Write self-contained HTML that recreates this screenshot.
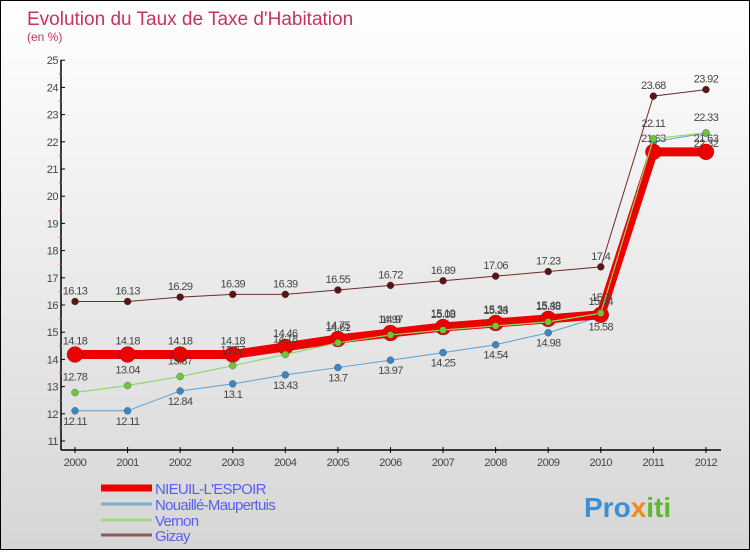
<!DOCTYPE html>
<html><head><meta charset="utf-8"><style>
html,body{margin:0;padding:0}
body{width:750px;height:550px;overflow:hidden;font-family:"Liberation Sans",sans-serif}
#wrap{position:relative;width:748px;height:548px;border:1px solid #000;background:linear-gradient(#ffffff,#d6d6d6)}
</style></head><body>
<div id="wrap">
<svg id="chart" width="748" height="548">
<text x="26" y="24" font-size="19" fill="#c8325e">Evolution du Taux de Taxe d'Habitation</text>
<text x="26" y="40" font-size="12" fill="#c8325e">(en %)</text>
<g id="axes"></g><g id="series"></g><g id="legend"></g>
<text x="583" y="516" font-size="28" font-weight="bold" fill="#3a8fd6">Pro<tspan fill="#f08a1c">x</tspan><tspan fill="#5cb82e">iti</tspan></text>
</svg>
</div>
<script>
const years=[2000,2001,2002,2003,2004,2005,2006,2007,2008,2009,2010,2011,2012];
const yTicks=[11,12,13,14,15,16,17,18,19,20,21,22,23,24,25];
const names=["NIEUIL-L'ESPOIR","Nouaillé-Maupertuis","Vernon","Gizay"];
const nieuil=[14.18,14.18,14.18,14.18,14.46,14.75,14.97,15.19,15.34,15.49,15.64,21.63,21.63];
const nouaille=[12.11,12.11,12.84,13.1,13.43,13.7,13.97,14.25,14.54,14.98,15.58,22.0,22.32];
const vernon=[12.78,13.04,13.37,13.77,14.18,14.61,14.9,15.08,15.23,15.38,15.7,22.11,22.33];
const gizay=[16.13,16.13,16.29,16.39,16.39,16.55,16.72,16.89,17.06,17.23,17.4,23.68,23.92];
const NS="http://www.w3.org/2000/svg";
const X=i=>74+i*52.58;
const Y=v=>440-(v-11)*27.2;
function mk(t,a,p){const e=document.createElementNS(NS,t);for(const k in a)e.setAttribute(k,a[k]);(p||document.getElementById('series')).appendChild(e);return e;}
const ax=document.getElementById('axes');
let e=mk('line',{x1:60,y1:59,x2:60,y2:449,stroke:'#000','stroke-width':1.5},ax);


e=mk('line',{x1:60,y1:449,x2:720,y2:449,stroke:'#000','stroke-width':1.5},ax);


yTicks.forEach(v=>{
  mk('line',{x1:60,y1:Y(v),x2:64,y2:Y(v),stroke:'#000'},ax);
  if(v<25) mk('line',{x1:58,y1:Y(v+0.5),x2:61,y2:Y(v+0.5),stroke:'#f33'},ax);
  const t=mk('text',{x:57,y:Y(v)+4,'font-size':11,fill:'#444','text-anchor':'end','letter-spacing':'-0.5'},ax);
  t.textContent=v;
  
  
});
years.forEach((y,i)=>{
  mk('line',{x1:X(i),y1:446,x2:X(i),y2:452,stroke:'#000'},ax);
  const t=mk('text',{x:X(i),y:465,'font-size':11,fill:'#444','text-anchor':'middle','letter-spacing':'-0.5'},ax);
  t.textContent=y;
  
  
});
const defs=[
 {d:gizay,c:'#6e2a2a',w:1,r:3.5,f:'#5a1515',lab:-7,n:'series-gizay'},
 {d:nouaille,c:'#5a9fd4',w:1,r:3.5,f:'#3b87c4',lab:14,n:'series-nouaille'},
 {d:nieuil,c:'#ee0000',w:9,r:8,f:'#ee0000',lab:-10,n:'series-nieuil'},
 {d:vernon,c:'#8ed86a',w:1.2,r:3.5,f:'#6cc83a',lab:-12,n:'series-vernon'}
];
defs.forEach(s=>{
  const g=mk('g',{});
  
  
  const p=mk('polyline',{points:s.d.map((v,i)=>X(i)+','+Y(v)).join(' '),fill:'none',stroke:s.c,'stroke-width':s.w},g);
  
  
  s.d.forEach((v,i)=>{
    const c=mk('circle',{cx:X(i),cy:Y(v),r:s.r,fill:s.f,stroke:'#333','stroke-width':0.3},g);
    
    
    const t=mk('text',{x:X(i),y:Y(v)+s.lab,'font-size':11,fill:'#444','text-anchor':'middle','letter-spacing':'-0.6'},g);
    t.textContent=v;
    
    
  });
});
const lg=document.getElementById('legend');
const lc=['#ee0000','#7aaed4','#a6d88a','#8a5a5a'],lw=[7,3,3,3],ly=[491,507,523,538];
names.forEach((n,i)=>{
  const g=mk('g',{},lg);
  
  
  mk('line',{x1:100,y1:ly[i]-4,x2:151,y2:ly[i]-4,stroke:lc[i],'stroke-width':lw[i]},g);
  const t=mk('text',{x:154,y:ly[i]+2,'font-size':15,fill:'#5a5ef0','letter-spacing':'-0.7'},g);
  t.textContent=n;
});
</script>
</body></html>
